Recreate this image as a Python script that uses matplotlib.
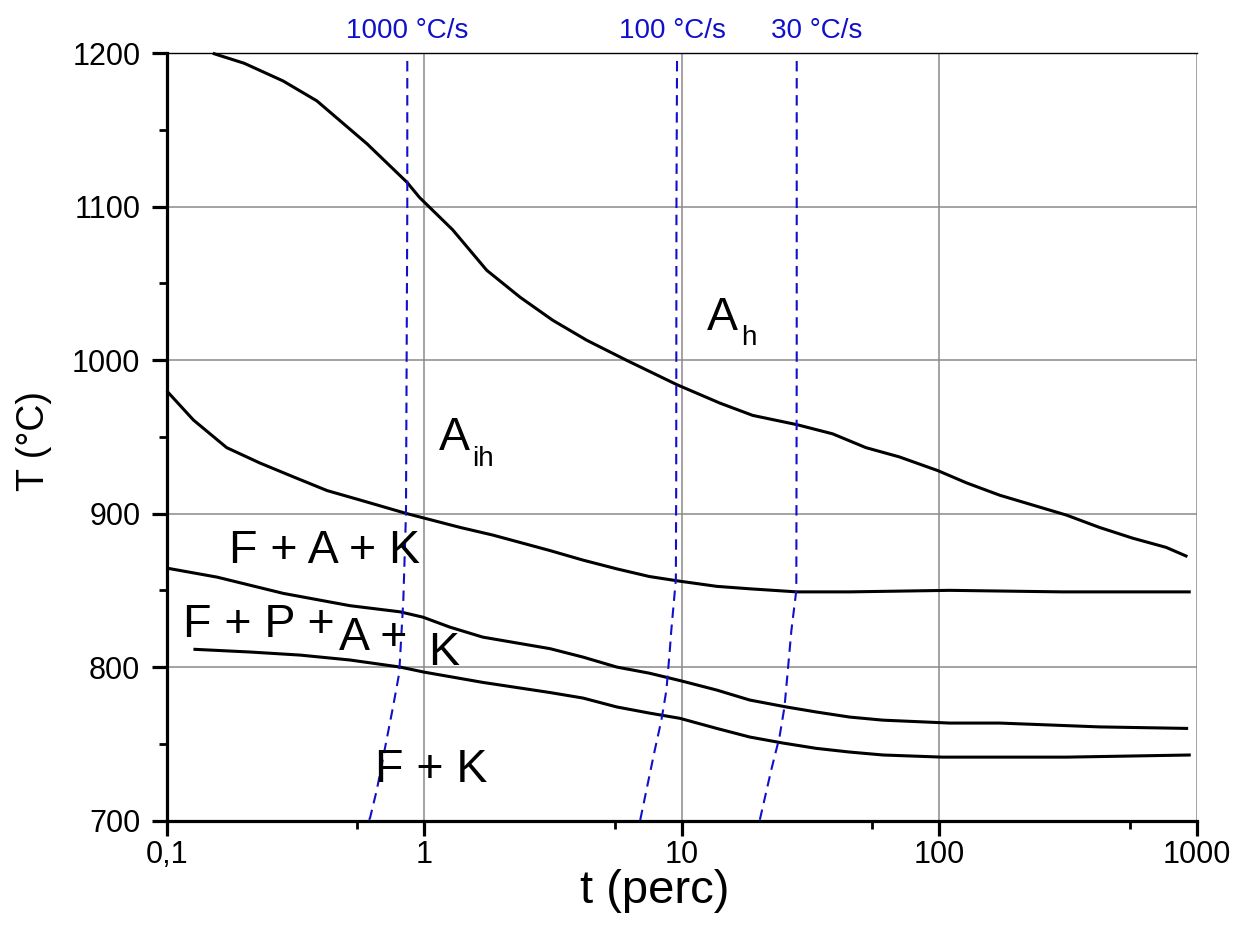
import matplotlib
matplotlib.use("Agg")
import matplotlib.pyplot as plt

plt.rcParams['font.family'] = ['Liberation Sans', 'DejaVu Sans']

# ---- data ----
# upper boundary (A_h / A_ih)
t_ah = [0.151, 0.2, 0.283, 0.383, 0.6, 0.857, 0.96, 1.29, 1.75, 2.36, 3.16, 4.28, 6.1,
        9.6, 14.1, 18.9, 28, 38.6, 52, 70, 99, 128, 172, 231, 313, 420, 565, 762, 922]
T_ah = [1200, 1193.5, 1182, 1169, 1141, 1116, 1106, 1085, 1058.6, 1041, 1026, 1013, 1000,
        984, 972, 964, 958, 952, 943, 937, 928, 920, 912, 905.6, 899, 891, 884, 878, 872]

# A_ih / F+A+K boundary
t_aih = [0.1, 0.127, 0.171, 0.23, 0.31, 0.42, 0.56, 0.857, 1.38, 1.85, 3.07, 4.14, 5.6,
         7.5, 9.8, 13.7, 18.4, 28, 45, 110, 300, 950]
T_aih = [980, 961, 943, 933, 924, 915, 909, 900, 891, 886, 876, 869.7, 864,
         859, 856, 852.6, 851, 849, 849, 850, 849, 849]

# F+A+K / F+P+A+K boundary
t_fak = [0.1, 0.157, 0.284, 0.515, 0.806, 0.99, 1.26, 1.69, 3.08, 4.14, 5.6, 7.5, 9.96,
         13.7, 18.4, 25.5, 33.4, 45, 60.5, 110, 172, 420, 928]
T_fak = [864.5, 858.6, 848, 840, 836, 832.5, 826, 819.5, 812, 806.5, 800, 796, 791,
         785, 778.5, 774, 770.7, 767.4, 765.4, 763.5, 763.5, 761, 760]

# F+P+A+K / F+K boundary
t_fk = [0.127, 0.211, 0.33, 0.515, 0.806, 1.0, 1.69, 3.08, 4.14, 5.6, 7.5, 9.84, 13.7,
        18.4, 24.7, 33.4, 45, 60.5, 103, 313, 950]
T_fk = [811.6, 809.8, 807.8, 804.6, 800, 796.7, 790, 783.4, 779.8, 774, 770, 766.6, 760,
        754.4, 750.5, 747, 744.6, 742.7, 741.3, 741.3, 742.7]

# cooling curves
t_c1000 = [0.86, 0.86, 0.855, 0.85, 0.83, 0.80, 0.757, 0.69, 0.655, 0.617, 0.61]
T_c1000 = [1195, 1100, 1000, 900, 843.6, 796, 774, 739.5, 720, 702, 700]
t_c100 = [9.6, 9.55, 9.53, 9.5, 9.12, 9.0, 8.73, 8.35, 7.87, 7.4, 6.9]
T_c100 = [1195, 1100, 922, 857, 824, 811, 785, 765.5, 746, 724.5, 700]
t_c30 = [28, 28, 27.9, 26.7, 25.8, 25.1, 24, 22.3, 20.1]
T_c30 = [1195, 1000, 850, 824, 796, 774, 754.4, 733, 700]

cool_labels = ["1000 °C/s", "100 °C/s", "30 °C/s"]
x_ticks = [0.1, 1, 10, 100, 1000]
x_ticklabels = ["0,1", "1", "10", "100", "1000"]
x_minor = [0.55, 5.5, 55, 550]
y_ticks = [700, 800, 900, 1000, 1100, 1200]
y_minor = [750, 850, 950, 1050, 1150]

W, H = 1235, 943
fig = plt.figure(figsize=(W / 100, H / 100), dpi=100)
L, R, B, T = 166.7, 1196.5, 820.5, 53.3
ax = fig.add_axes([L / W, 1 - B / H, (R - L) / W, (B - T) / H])

ax.set_xscale('log')
ax.set_xlim(0.1, 1000)
ax.set_ylim(700, 1200)

ax.set_xticks(x_ticks)
ax.set_xticklabels(x_ticklabels)
ax.set_xticks(x_minor, minor=True)
ax.set_xticklabels([''] * len(x_minor), minor=True)
ax.set_yticks(y_ticks)
ax.set_yticks(y_minor, minor=True)

ax.grid(which='major', color='#8a8a8a', lw=1.1, zorder=0)
ax.set_axisbelow(True)

for sp in ['left', 'bottom']:
    ax.spines[sp].set_linewidth(2.3)
ax.spines['top'].set_linewidth(1.0)
ax.spines['right'].set_visible(False)

ax.tick_params(axis='both', which='major', direction='out', length=11, width=2.3,
               labelsize=22, pad=3, top=False, right=False)
ax.tick_params(axis='both', which='minor', direction='out', length=6, width=2.0,
               top=False, right=False)
ax.tick_params(axis='y', which='major', pad=8)

lw = 2.2
for tx, ty in [(t_ah, T_ah), (t_aih, T_aih), (t_fak, T_fak), (t_fk, T_fk)]:
    ax.plot(tx, ty, color='black', lw=lw, solid_capstyle='butt',
            solid_joinstyle='round', zorder=3, clip_on=False)

blue = '#1010cc'
for tx, ty in [(t_c1000, T_c1000), (t_c100, T_c100), (t_c30, T_c30)]:
    ax.plot(tx, ty, color=blue, lw=1.5, ls=(0, (5, 3.2)), zorder=4)

# cooling rate labels above the axes
def ftext(x, y, s, **kw):
    fig.text(x / W, 1 - y / H, s, **kw)

for xc, s in zip([407.5, 672, 817], cool_labels):
    ftext(xc, 38, s, ha='center', va='baseline', fontsize=20, color=blue)

# region labels
rs = 33.5
ftext(229, 563, "F + A + K", fontsize=rs, va='baseline')
ftext(183, 637, "F + P +", fontsize=rs, va='baseline')
ftext(339, 650, "A +", fontsize=rs, va='baseline')
ftext(428, 665, "K", fontsize=rs, va='baseline')
ftext(375, 782, "F + K", fontsize=rs, va='baseline')
ftext(439, 450, "A", fontsize=rs, va='baseline')
ftext(472, 466, "ih", fontsize=20, va='baseline')
ftext(707, 330, "A", fontsize=rs, va='baseline')
ftext(741, 345, "h", fontsize=20, va='baseline')

# axis labels
ftext(34, 441, "T (°C)", fontsize=27, rotation=90, ha='center', va='center')
ftext(655, 903, "t (perc)", fontsize=34, ha='center', va='baseline')

fig.savefig('out.png', dpi=100)
